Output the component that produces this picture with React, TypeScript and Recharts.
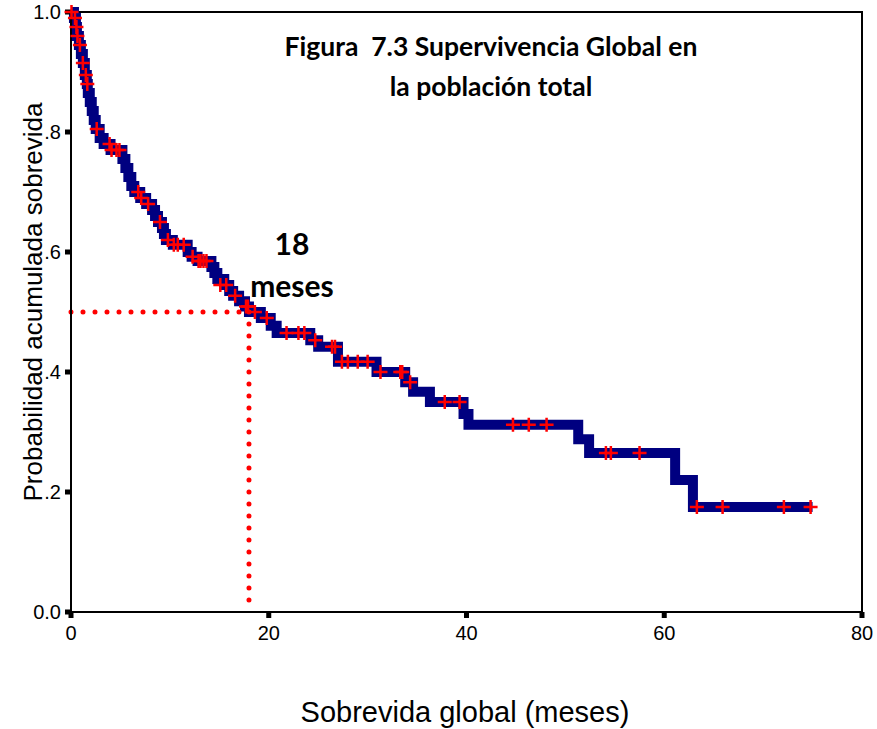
import {
  ComposedChart,
  Label,
  Line,
  ReferenceArea,
  ReferenceLine,
  Scatter,
  XAxis,
  YAxis,
} from "recharts";

// Kaplan-Meier steps: time (months) where survival drops, and the new value
const stepTimes = [
  0, 0.3, 0.5, 0.6, 0.8, 1.0, 1.2, 1.4, 1.6, 1.7, 1.9, 2.1, 2.3, 2.5, 2.9, 3.3,
  4.0, 5.2, 5.5, 5.8, 6.1, 6.4, 7.0, 7.6, 8.2, 8.5, 8.8, 9.2, 9.4, 9.6, 10.3,
  11.8, 12.2, 12.8, 14.2, 14.5, 14.8, 15.5, 16.0, 16.4, 17.0, 17.6, 18.0, 19.2,
  20.2, 20.8, 24.2, 25.0, 27.0, 30.9, 33.8, 34.6, 36.3, 39.7, 40.2, 51.3, 52.4,
  61.1, 62.9, 75.0,
];
const stepSurvival = [
  1.0, 0.99, 0.975, 0.96, 0.945, 0.93, 0.915, 0.895, 0.88, 0.865, 0.85, 0.835,
  0.82, 0.805, 0.79, 0.78, 0.77, 0.755, 0.74, 0.725, 0.71, 0.7, 0.69, 0.68,
  0.67, 0.66, 0.65, 0.64, 0.63, 0.62, 0.612, 0.6, 0.592, 0.585, 0.575, 0.565,
  0.555, 0.545, 0.535, 0.527, 0.518, 0.509, 0.5, 0.49, 0.477, 0.465, 0.453,
  0.442, 0.417, 0.4, 0.383, 0.367, 0.35, 0.33, 0.312, 0.288, 0.265, 0.22,
  0.175, 0.175,
];

// censored observations (+ marks)
const censorTimes = [
  0.05, 0.4, 0.55, 0.65, 0.9, 1.2, 1.5, 1.65, 2.6, 3.9, 4.1, 4.6, 4.9, 6.8, 7.1,
  7.8, 9.0, 9.8, 10.4, 10.8, 11.4, 12.3, 12.9, 13.1, 13.4, 13.7, 15.1, 15.7,
  16.6, 17.7, 17.9, 18.6, 19.8, 21.8, 23.0, 23.6, 24.7, 26.4, 26.7, 27.4, 28.0,
  29.0, 30.0, 31.3, 33.3, 33.5, 34.3, 37.8, 39.3, 44.7, 46.3, 48.1, 54.1, 54.6,
  57.5, 63.3, 65.9, 72.1, 74.8,
];
const censorSurvival = [
  1.0, 0.99, 0.975, 0.96, 0.945, 0.915, 0.895, 0.88, 0.805, 0.78, 0.77, 0.77,
  0.77, 0.7, 0.69, 0.68, 0.65, 0.62, 0.612, 0.612, 0.612, 0.592, 0.585, 0.585,
  0.585, 0.585, 0.545, 0.545, 0.527, 0.509, 0.509, 0.5, 0.49, 0.465, 0.465,
  0.465, 0.453, 0.442, 0.442, 0.417, 0.417, 0.417, 0.417, 0.4, 0.4, 0.4, 0.383,
  0.35, 0.35, 0.312, 0.312, 0.312, 0.265, 0.265, 0.265, 0.175, 0.175, 0.175,
  0.175,
];

const xTicks = [0, 20, 40, 60, 80];
const yTicks = [0, 0.2, 0.4, 0.6, 0.8, 1.0];
const yTickLabels = ["0.0", ".2", ".4", ".6", ".8", "1.0"];

const medianTime = 18;
const medianSurvival = 0.5;

const curve = stepTimes.map((t, i) => ({ t, s: stepSurvival[i] }));
const censored = censorTimes.map((t, i) => ({ t, s: censorSurvival[i] }));

const tickFont = "'Liberation Sans', Arial, sans-serif";
const labelFont = "'Liberation Sans', Arial, sans-serif";
const boldFont = "Lato, 'Open Sans', sans-serif";

function CensorMark(props: any) {
  const { cx, cy } = props;
  if (cx == null || cy == null) return null;
  return (
    <path
      d={`M${cx - 7},${cy}h14M${cx},${cy - 7}v14`}
      stroke="#ff0000"
      strokeWidth={2.5}
      fill="none"
    />
  );
}

export default function App() {
  return (
    <div style={{ position: "absolute", left: 0, top: 0, width: 877, height: 729, background: "#fff" }}>
      <ComposedChart
        width={877}
        height={729}
        margin={{ top: 12, right: 15, bottom: 0, left: 0 }}
      >
        <XAxis
          dataKey="t"
          type="number"
          domain={[0, 80]}
          ticks={xTicks}
          height={117}
          axisLine={{ stroke: "#000", strokeWidth: 2 }}
          tickLine={{ stroke: "#000", strokeWidth: 5 }}
          tickSize={6}
          tickMargin={8}
          tick={{ fill: "#000", fontSize: 20, fontFamily: tickFont }}
        >
          <Label
            content={() => (
              <text
                x={465}
                y={722}
                textAnchor="middle"
                fontSize={29}
                fontFamily={labelFont}
                fill="#000"
              >
                Sobrevida global (meses)
              </text>
            )}
          />
        </XAxis>
        <YAxis
          dataKey="s"
          type="number"
          domain={[0, 1]}
          ticks={yTicks}
          width={71}
          tickFormatter={(v: number) => yTickLabels[yTicks.indexOf(v)] ?? String(v)}
          axisLine={{ stroke: "#000", strokeWidth: 2 }}
          tickLine={{ stroke: "#000", strokeWidth: 5 }}
          tickSize={6}
          tickMargin={4}
          tick={{ fill: "#000", fontSize: 20, fontFamily: tickFont }}
        >
          <Label
            content={() => (
              <text
                x={42}
                y={302}
                transform="rotate(-90 42 302)"
                textAnchor="middle"
                fontSize={26}
                fontFamily={labelFont}
                fill="#000"
              >
                Probabilidad acumulada sobrevida
              </text>
            )}
          />
        </YAxis>
        <ReferenceArea
          x1={0}
          x2={80}
          y1={0}
          y2={1}
          fill="none"
          stroke="#000"
          strokeWidth={2}
        />
        <Line
          data={curve}
          dataKey="s"
          type="stepAfter"
          stroke="#000080"
          strokeWidth={10}
          dot={false}
          activeDot={false}
          isAnimationActive={false}
        />
        <Scatter
          data={censored}
          dataKey="s"
          shape={CensorMark}
          isAnimationActive={false}
        />
        <ReferenceLine
          segment={[
            { x: 0, y: medianSurvival },
            { x: medianTime, y: medianSurvival },
          ]}
          stroke="#ff0000"
          strokeWidth={5}
          strokeDasharray="0 12"
          strokeLinecap="round"
        />
        <ReferenceLine
          segment={[
            { x: medianTime, y: medianSurvival },
            { x: medianTime, y: 0 },
          ]}
          stroke="#ff0000"
          strokeWidth={5}
          strokeDasharray="0 12"
          strokeLinecap="round"
        />
      </ComposedChart>

      <div
        style={{
          position: "absolute",
          left: 491,
          top: 26,
          transform: "translateX(-50%)",
          whiteSpace: "nowrap",
          textAlign: "center",
          fontFamily: boldFont,
          fontWeight: 700,
          fontSize: 26.5,
          lineHeight: "40px",
          color: "#000",
        }}
      >
        <div>Figura&nbsp; 7.3 Supervivencia Global en</div>
        <div>la población total</div>
      </div>

      <div
        style={{
          position: "absolute",
          left: 292,
          top: 222,
          transform: "translateX(-50%)",
          whiteSpace: "nowrap",
          textAlign: "center",
          fontFamily: boldFont,
          fontWeight: 700,
          fontSize: 30,
          lineHeight: "42px",
          color: "#000",
        }}
      >
        <div>18</div>
        <div>meses</div>
      </div>
    </div>
  );
}
